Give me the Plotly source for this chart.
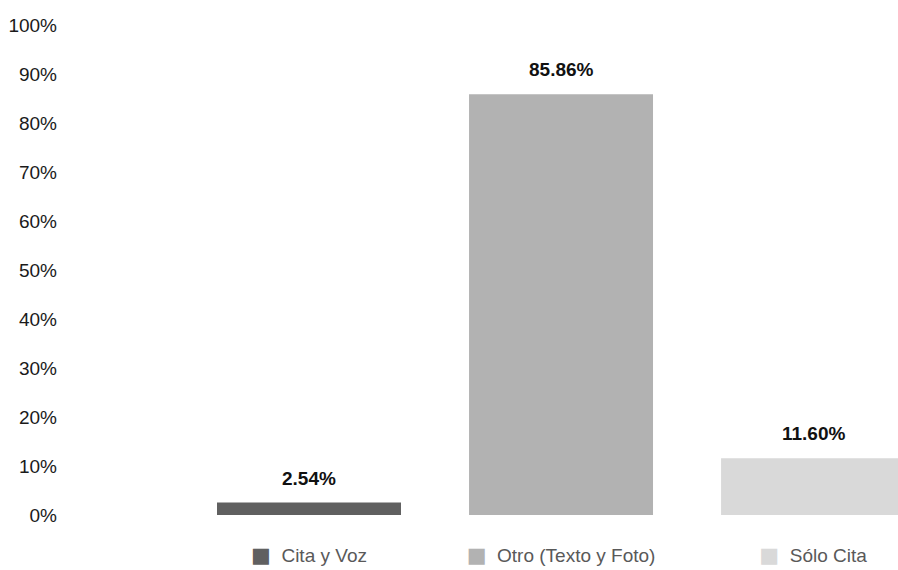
import plotly.graph_objects as go

categories = ["Cita y Voz", "Otro (Texto y Foto)", "Sólo Cita"]
values = [2.54, 85.86, 11.60]
labels = ["2.54%", "85.86%", "11.60%"]
colors = ["#606060", "#b2b2b2", "#d9d9d9"]
y_ticks = list(range(0, 101, 10))

FONT = "Liberation Sans Narrow, Arial Narrow, Liberation Sans, Arial, sans-serif"

fig = go.Figure()
fig.add_trace(go.Bar(
    x=list(range(len(categories))), y=values,
    marker=dict(color=colors, line=dict(width=0)),
    width=0.73, showlegend=False, hoverinfo="skip",
))

for i, (v, t) in enumerate(zip(values, labels)):
    fig.add_annotation(x=i, y=v, text=f"<b>{t}</b>", showarrow=False,
                       yanchor="bottom", yshift=12,
                       font=dict(family=FONT, size=19, color="#111111"))

ticktext = [f'<span style="color:{c};font-family:DejaVu Sans;font-size:21px">■</span>  {n}'
            for c, n in zip(colors, categories)]

fig.update_layout(
    width=898, height=570,
    margin=dict(l=62, r=0, t=25, b=54.5),
    paper_bgcolor="white", plot_bgcolor="white",
    font=dict(family=FONT, size=19, color="#222222"),
    bargap=0.27,
    xaxis=dict(range=[-0.98, 2.337], tickvals=list(range(len(categories))),
               ticktext=ticktext, showgrid=False, zeroline=False, showline=False,
               ticks="", ticklabelstandoff=27, automargin=False,
               tickfont=dict(family=FONT, size=19, color="#595959")),
    yaxis=dict(range=[0, 100], tickvals=y_ticks, ticktext=[f"{v}%" for v in y_ticks],
               showgrid=False, zeroline=False, showline=False, ticks="",
               ticklabelstandoff=4, automargin=False,
               tickfont=dict(family=FONT, size=19, color="#1a1a1a")),
)

fig.write_html("out.html", config={"displayModeBar": False},
               post_script="document.body.style.margin='0';document.body.style.overflow='hidden';")
